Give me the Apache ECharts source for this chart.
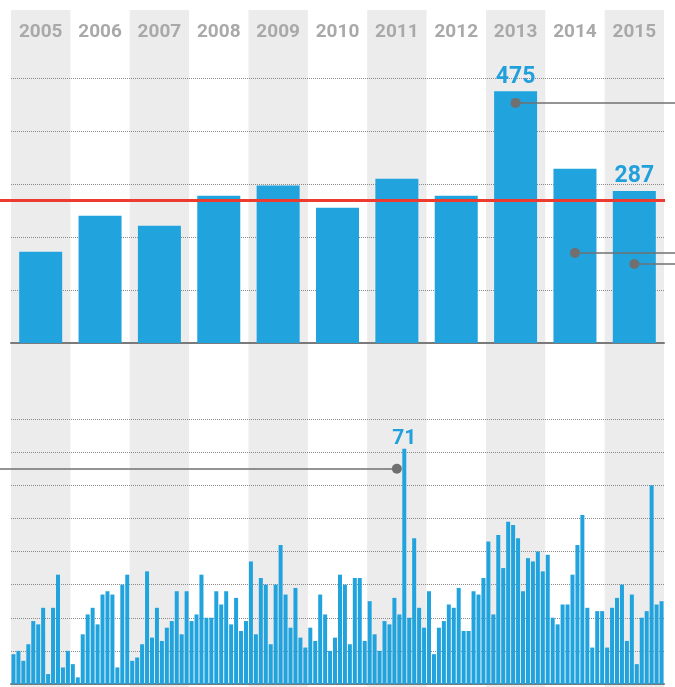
<!DOCTYPE html>
<html>
<head>
<meta charset="utf-8">
<script src="https://cdn.jsdelivr.net/npm/echarts@6/dist/echarts.min.js"></script>
<style>
    html, body { margin: 0; padding: 0; background: #fff; }
    #main { width: 675px; height: 687px; }
</style>
</head>
<body>
<div id="main"></div>
<script>
// 年份
var years = ['2005', '2006', '2007', '2008', '2009', '2010', '2011', '2012', '2013', '2014', '2015'];
// 年度合计
var yearValues = [172, 240, 221, 278, 297, 255, 310, 278, 475, 329, 287];
var yearLabeled = ['2013', '2015'];
var avgLine = 270;
// 指引线 (年份, 数值)
var topPointers = [['2013', 453], ['2014', 170], ['2015', 149]];
var bottomPointer = ['2011', 65];

// 月度数值, 每年12个
var m2005 = [9, 10, 7, 12, 19, 18, 23, 3, 23, 33, 5, 10];
var m2006 = [6, 2, 15, 21, 23, 18, 27, 28, 27, 5, 30, 33];
var m2007 = [7, 8, 12, 34, 14, 23, 13, 17, 19, 28, 15, 28];
var m2008 = [19, 21, 33, 20, 20, 28, 24, 28, 18, 26, 16, 19];
var m2009 = [37, 15, 32, 30, 12, 30, 42, 27, 17, 29, 14, 11];
var m2010 = [17, 13, 27, 21, 10, 14, 33, 30, 12, 32, 32, 13];
var m2011 = [25, 15, 10, 19, 18, 26, 21, 71, 20, 44, 23, 17];
var m2012 = [28, 9, 17, 19, 24, 23, 29, 16, 16, 28, 27, 32];
var m2013 = [43, 21, 45, 35, 49, 48, 44, 28, 38, 37, 40, 34];
var m2014 = [39, 20, 18, 24, 24, 33, 42, 51, 23, 11, 22, 22];
var m2015 = [11, 23, 26, 30, 13, 27, 6, 20, 22, 60, 24, 25];
var monthLabeled = ['2011-08'];

var blue = '#21a3de';
var months = [];
var monthValues = [].concat(m2005, m2006, m2007, m2008, m2009, m2010, m2011, m2012, m2013, m2014, m2015);
for (var i = 0; i < years.length; i++) {
    for (var j = 1; j <= 12; j++) {
        months.push(years[i] + '-' + (j < 10 ? '0' + j : j));
    }
}

var labelStyle = {
    show: true,
    position: 'top',
    color: '#22a0dc',
    fontFamily: 'Roboto',
    fontWeight: 'bold'
};

var yearData = yearValues.map(function(v, i) {
    if (yearLabeled.indexOf(years[i]) > -1) {
        return { value: v, label: Object.assign({}, labelStyle, { fontSize: 23, distance: 3 }) };
    }
    return v;
});
var monthData = monthValues.map(function(v, i) {
    if (monthLabeled.indexOf(months[i]) > -1) {
        return { value: v, label: Object.assign({}, labelStyle, { fontSize: 21, distance: 0 }) };
    }
    return v;
});

var pointerStyle = { color: '#707070', width: 1.5, type: 'solid' };
var dotStyle = { color: '#6b6b6b' };

var myChart = echarts.init(document.getElementById('main'));
var option = {
    backgroundColor: '#fff',
    animation: false,
    grid: [
        { left: 11, right: 11, top: 10, bottom: 0 },     // 背景条纹
        { left: 11, right: 11, top: 78, bottom: 344 },   // 年度
        { left: 11, right: 11, top: 419, bottom: 3 }     // 月度
    ],
    xAxis: [{
        gridIndex: 0,
        type: 'category',
        data: years,
        position: 'top',
        z: -1,
        axisLine: { show: false },
        axisTick: { show: false },
        axisLabel: {
            inside: true,
            margin: 13,
            color: '#a9a9a9',
            fontSize: 19,
            fontWeight: 'bold',
            fontFamily: 'Roboto'
        },
        splitArea: { show: true, areaStyle: { color: ['#ececec', 'rgba(255,255,255,0)'] } }
    }, {
        gridIndex: 1,
        type: 'category',
        data: years,
        axisLine: { lineStyle: { color: '#7a7a7a', width: 2 } },
        axisTick: { show: false },
        axisLabel: { show: false }
    }, {
        gridIndex: 2,
        type: 'category',
        data: months,
        axisLine: { lineStyle: { color: '#7a7a7a', width: 2 } },
        axisTick: { show: false },
        axisLabel: { show: false }
    }, {
        gridIndex: 2,
        type: 'category',
        data: years,
        show: false
    }],
    yAxis: [{
        gridIndex: 0,
        show: false
    }, {
        gridIndex: 1,
        type: 'value',
        min: 0,
        max: 500,
        interval: 100,
        axisLine: { show: false },
        axisTick: { show: false },
        axisLabel: { show: false },
        splitLine: { lineStyle: { type: 'dotted', color: '#8a8a8a', width: 1 } }
    }, {
        gridIndex: 2,
        type: 'value',
        min: 0,
        max: 80,
        interval: 10,
        axisLine: { show: false },
        axisTick: { show: false },
        axisLabel: { show: false },
        splitLine: { lineStyle: { type: 'dotted', color: '#8a8a8a', width: 1 } }
    }],
    series: [{
        type: 'bar',
        xAxisIndex: 1,
        yAxisIndex: 1,
        data: yearData,
        barWidth: 43,
        clip: false,
        itemStyle: { color: blue },
        markLine: {
            silent: true,
            symbol: ['circle', 'none'],
            symbolSize: 10,
            itemStyle: dotStyle,
            lineStyle: pointerStyle,
            label: { show: false },
            data: topPointers.map(function(p) {
                return [{ xAxis: p[0], yAxis: p[1] }, { x: 675, yAxis: p[1] }];
            })
        }
    }, {
        // 平均线
        type: 'line',
        xAxisIndex: 1,
        yAxisIndex: 1,
        data: [],
        clip: false,
        markLine: {
            silent: true,
            symbol: ['none', 'none'],
            lineStyle: { color: '#ee3b30', width: 3, type: 'solid' },
            label: { show: false },
            data: [[{ x: 0, yAxis: avgLine }, { x: 665, yAxis: avgLine }]]
        }
    }, {
        type: 'bar',
        xAxisIndex: 2,
        yAxisIndex: 2,
        data: monthData,
        barWidth: 4,
        clip: false,
        itemStyle: { color: blue }
    }, {
        type: 'line',
        xAxisIndex: 3,
        yAxisIndex: 2,
        data: [],
        clip: false,
        markLine: {
            silent: true,
            symbol: ['circle', 'none'],
            symbolSize: 10,
            itemStyle: dotStyle,
            lineStyle: pointerStyle,
            label: { show: false },
            data: [[{ xAxis: bottomPointer[0], yAxis: bottomPointer[1] }, { x: 0, yAxis: bottomPointer[1] }]]
        }
    }]
};
myChart.setOption(option);
</script>
</body>
</html>
